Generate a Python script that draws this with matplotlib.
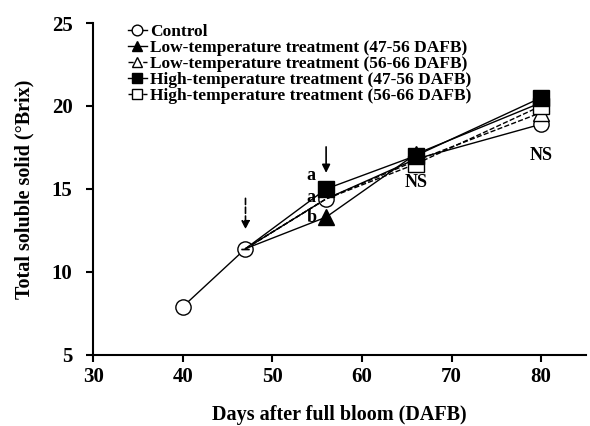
import matplotlib.pyplot as plt

plt.rcParams['font.family'] = ['Liberation Serif', 'DejaVu Serif']
plt.rcParams['font.weight'] = 'bold'

# data
days_ctrl = [40, 47, 56, 66, 80]
control = [7.9, 11.4, 14.4, 16.8, 18.9]
days_trt = [47, 56, 66, 80]
low_47_56 = [11.4, 13.3, 17.1, 20.2]
low_56_66 = [11.4, 14.4, 16.7, 19.6]
high_47_56 = [11.4, 15.0, 17.0, 20.5]
high_56_66 = [11.4, 14.4, 16.5, 20.0]
err_high_47_56 = [0, 0.2, 0.2, 0.4]

fig = plt.figure(figsize=(5.9, 4.26), dpi=100)
ax = fig.add_axes([0.158, 0.167, 0.835, 0.779])

ms = 11
ax.plot(days_ctrl, control, '-', color='black', lw=1, marker='o', ms=ms,
        mfc='white', mec='black', label='Control', zorder=3)
ax.plot(days_trt, low_47_56, '-', color='black', lw=1, marker='^', ms=ms,
        mfc='black', mec='black', markevery=[1, 2, 3],
        label='Low-temperature treatment (47-56 DAFB)', zorder=4)
ax.plot(days_trt, low_56_66, '--', color='black', lw=1, marker='^', ms=ms,
        mfc='white', mec='black', markevery=[2, 3],
        label='Low-temperature treatment (56-66 DAFB)', zorder=4)
ax.errorbar(days_trt, high_47_56, yerr=err_high_47_56, fmt='none', ecolor='black',
            elinewidth=1, capsize=3, zorder=5)
ax.plot(days_trt, high_47_56, '-', color='black', lw=1, marker='s', ms=ms,
        mfc='black', mec='black', markevery=[1, 2, 3],
        label='High-temperature treatment (47-56 DAFB)', zorder=6)
ax.plot(days_trt, high_56_66, '--', color='black', lw=1, marker='s', ms=ms,
        mfc='white', mec='black', markevery=[2, 3],
        label='High-temperature treatment (56-66 DAFB)', zorder=5)

# arrows for treatment start
ax.annotate('', xy=(47, 12.4), xytext=(47, 14.6),
            arrowprops=dict(arrowstyle='-|>', color='black', lw=1.2, ls='--', mutation_scale=12))
ax.annotate('', xy=(56, 15.8), xytext=(56, 17.7),
            arrowprops=dict(arrowstyle='-|>', color='black', lw=1.2, mutation_scale=12))

# significance letters
ax.text(54.3, 15.8, 'a', fontsize=13, ha='center', va='center')
ax.text(54.3, 14.5, 'a', fontsize=13, ha='center', va='center')
ax.text(54.4, 13.3, 'b', fontsize=13, ha='center', va='center')
ax.text(66, 15.4, 'NS', fontsize=13, ha='center', va='center')
ax.text(80, 17.0, 'NS', fontsize=13, ha='center', va='center')

ax.set_xlim(30, 85)
ax.set_ylim(5, 25)
ax.set_xticks([30, 40, 50, 60, 70, 80])
ax.set_yticks([5, 10, 15, 20, 25])
ax.spines['top'].set_visible(False)
ax.spines['right'].set_visible(False)
ax.spines['left'].set_linewidth(1.5)
ax.spines['bottom'].set_linewidth(1.5)
ax.tick_params(direction='out', width=1.5, length=5, labelsize=15)
ax.tick_params(axis='y', pad=10)
ax.tick_params(axis='x', pad=4)
for lab in ax.get_xticklabels() + ax.get_yticklabels():
    lab.set_fontweight('bold')

ax.set_xlabel('Days after full bloom (DAFB)', fontsize=14.5, fontweight='bold', labelpad=13)
ax.set_ylabel('Total soluble solid (°Brix)', fontsize=14.5, fontweight='bold', labelpad=12)

leg = ax.legend(loc='upper left', bbox_to_anchor=(0.045, 1.035), frameon=False,
                fontsize=12.5, handlelength=1.1, handletextpad=0.2,
                labelspacing=0.0, borderaxespad=0.3, markerscale=0.7)
for t in leg.get_texts():
    t.set_fontweight('bold')

fig.savefig('out.png', dpi=100)
